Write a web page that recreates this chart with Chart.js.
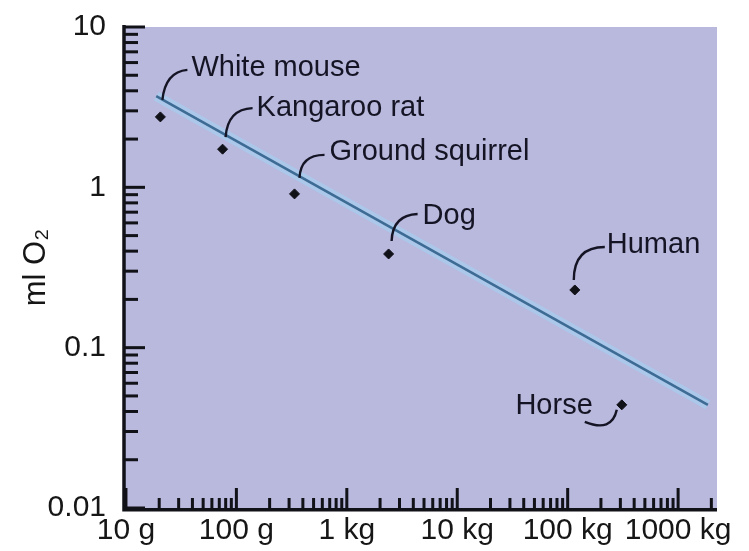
<!DOCTYPE html>
<html>
<head>
<meta charset="utf-8">
<script src="https://cdn.jsdelivr.net/npm/chart.js@4.4.0/dist/chart.umd.min.js"></script>
<style>
html,body{margin:0;padding:0;background:#ffffff;}
#wrap{width:749px;height:551px;}
</style>
</head>
<body>
<div id="wrap"><canvas id="c" width="749" height="551"></canvas></div>
<script>
// ---- data ----
const animals = ['White mouse', 'Kangaroo rat', 'Ground squirrel', 'Dog', 'Human', 'Horse'];
const bodyMassKg = [0.0205, 0.075, 0.336, 2.39, 116, 309];
const o2PerHour = [2.75, 1.73, 0.91, 0.384, 0.229, 0.044];
const fitMassKg = [0.0188, 1860];
const fitO2 = [3.7, 0.044];
const xTickValues = [0.01, 0.1, 1, 10, 100, 1000];
const xTickLabels = ['10 g', '100 g', '1 kg', '10 kg', '100 kg', '1000 kg'];
const yTickValues = [0.01, 0.1, 1, 10];
const yTickLabels = ['0.01', '0.1', '1', '10'];
const yAxisTitle = 'ml O\u2082';

// ---- styles / annotation layout (pixel offsets from each point) ----
const FONT = '"Liberation Sans", Arial, Helvetica, sans-serif';
const PLOT_BG = '#b9b8dd';
const INK = '#141424';
const labelLayout = [
  {tx: 31, ty: -49, align: 'left',  lead: [[2, -17], [5, -45], [27, -47]]},
  {tx: 34, ty: -41, align: 'left',  lead: [[3, -12], [5, -40], [30, -41]]},
  {tx: 35, ty: -42, align: 'left',  lead: [[5, -16], [6, -39], [30, -39]]},
  {tx: 34, ty: -38, align: 'left',  lead: [[3, -13], [4, -39], [29, -40]]},
  {tx: 32, ty: -45, align: 'left',  lead: [[-1, -10], [-1, -43], [30, -43]]},
  {tx: -29, ty: 1,  align: 'right', lead: [[-37, 17], [-10, 28], [-5, 5]]}
];

function toXY(xs, ys) { return xs.map((x, i) => ({x: x, y: ys[i]})); }
function lookup(vals, labels, v) {
  for (let i = 0; i < vals.length; i++) {
    if (Math.abs(Math.log10(v) - Math.log10(vals[i])) < 1e-6) return labels[i];
  }
  return '';
}

const deco = {
  id: 'deco',
  beforeDraw(chart) {
    const {ctx, chartArea: a} = chart;
    ctx.save();
    ctx.fillStyle = PLOT_BG;
    ctx.fillRect(a.left, a.top, a.right - a.left, a.bottom - a.top);
    ctx.restore();
  },
  afterDatasetsDraw(chart) {
    const {ctx, chartArea: a, scales} = chart;
    const xs = scales.x, ys = scales.y;
    ctx.save();
    ctx.strokeStyle = '#111118';
    ctx.lineCap = 'butt';
    function ticks(scale, horiz, majorLen, minorLen) {
      const lo = Math.floor(Math.log10(scale.min));
      const hi = Math.ceil(Math.log10(scale.max));
      ctx.lineWidth = 3;
      for (let d = lo; d <= hi; d++) {
        for (let m = 1; m <= 9; m++) {
          const v = m * Math.pow(10, d);
          if (v < scale.min * 0.999 || v > scale.max * 1.001) continue;
          const p = scale.getPixelForValue(v);
          const len = m === 1 ? majorLen : minorLen;
          ctx.beginPath();
          if (horiz) { ctx.moveTo(p, a.bottom); ctx.lineTo(p, a.bottom - len); }
          else { ctx.moveTo(a.left, p); ctx.lineTo(a.left + len, p); }
          ctx.stroke();
        }
      }
    }
    ticks(xs, true, 20, 10);
    ticks(ys, false, 21, 14);
    ctx.lineWidth = 3.5;
    ctx.beginPath();
    ctx.moveTo(a.left, a.top - 2);
    ctx.lineTo(a.left, a.bottom + 1.75);
    ctx.lineTo(a.right, a.bottom + 1.75);
    ctx.stroke();

    ctx.fillStyle = INK;
    ctx.strokeStyle = INK;
    ctx.font = '29px ' + FONT;
    ctx.textBaseline = 'middle';
    animals.forEach((name, i) => {
      const L = labelLayout[i];
      const px = xs.getPixelForValue(bodyMassKg[i]);
      const py = ys.getPixelForValue(o2PerHour[i]);
      ctx.textAlign = L.align;
      ctx.fillText(name, px + L.tx, py + L.ty);
      const [s, c, e] = L.lead;
      ctx.lineWidth = 2.4;
      ctx.beginPath();
      ctx.moveTo(px + s[0], py + s[1]);
      ctx.quadraticCurveTo(px + c[0], py + c[1], px + e[0], py + e[1]);
      ctx.stroke();
    });
    ctx.restore();
  }
};

new Chart(document.getElementById('c'), {
  type: 'scatter',
  data: {
    datasets: [
      {
        label: 'fit-glow',
        data: toXY(fitMassKg, fitO2),
        showLine: true,
        borderColor: 'rgba(168,204,238,0.8)',
        borderWidth: 10,
        pointRadius: 0,
        order: 3
      },
      {
        label: 'fit',
        data: toXY(fitMassKg, fitO2),
        showLine: true,
        borderColor: '#3d6b94',
        borderWidth: 2.6,
        pointRadius: 0,
        order: 2
      },
      {
        label: 'animals',
        data: toXY(bodyMassKg, o2PerHour),
        showLine: false,
        pointStyle: 'rectRot',
        pointRadius: 5,
        backgroundColor: '#111118',
        borderColor: '#111118',
        borderWidth: 1,
        order: 1
      }
    ]
  },
  options: {
    responsive: false,
    devicePixelRatio: 1,
    animation: false,
    layout: {padding: {top: 27, right: 32, left: 0, bottom: 0}},
    plugins: {legend: {display: false}, tooltip: {enabled: false}},
    scales: {
      x: {
        type: 'logarithmic',
        min: 0.0096,
        max: 2250,
        grid: {display: false, drawTicks: false},
        border: {display: false},
        afterBuildTicks(s) { s.ticks = xTickValues.map(v => ({value: v})); },
        afterFit(s) { s.height = 43; s.paddingLeft = 0; s.paddingRight = 0; },
        ticks: {
          autoSkip: false, maxRotation: 0, minRotation: 0, padding: 5,
          color: '#161616', font: {size: 30, family: FONT},
          callback: (v) => lookup(xTickValues, xTickLabels, v)
        }
      },
      y: {
        type: 'logarithmic',
        min: 0.01,
        max: 10,
        grid: {display: false, drawTicks: false},
        border: {display: false},
        afterBuildTicks(s) { s.ticks = yTickValues.map(v => ({value: v})); },
        afterFit(s) { s.width = 124; s.paddingTop = 0; s.paddingBottom = 0; },
        title: {
          display: true, text: yAxisTitle, color: '#161616',
          font: {size: 31, family: FONT}, padding: {top: 18, bottom: 0}
        },
        ticks: {
          autoSkip: false, padding: 18,
          color: '#161616', font: {size: 30, family: FONT},
          callback: (v) => lookup(yTickValues, yTickLabels, v)
        }
      }
    }
  },
  plugins: [deco]
});
</script>
</body>
</html>
